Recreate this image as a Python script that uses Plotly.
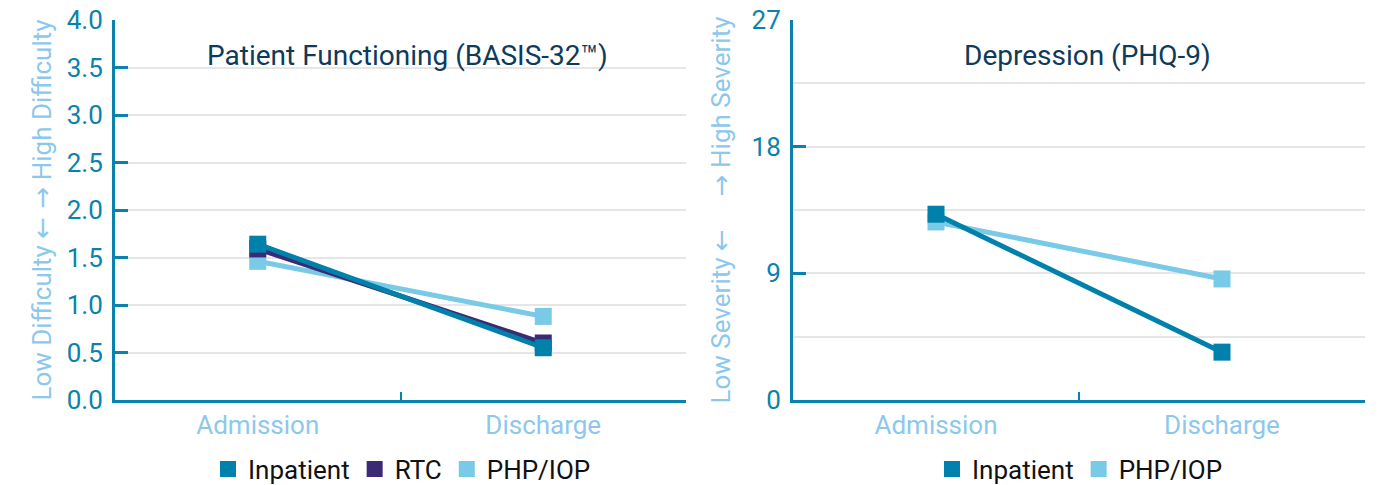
import plotly.graph_objects as go

# page renders the figure with an 8px body offset; lay out in reference pixels
OFF = 8
W, H = 1378 - OFF, 485 - OFF

def px(x):
    return (x - OFF) / W

def py(y):
    return 1 - (y - OFF) / H

timepoints = ["Admission", "Discharge"]

# Patient Functioning (BASIS-32)
basis_inpatient = [1.64, 0.55]
basis_rtc = [1.59, 0.60]
basis_php = [1.46, 0.88]

# Depression (PHQ-9)
phq_inpatient = [13.2, 3.4]
phq_php = [12.65, 8.6]

series_names = ["Inpatient", "RTC", "PHP/IOP"]
colors = {"Inpatient": "#0081AB", "RTC": "#3A2B74", "PHP/IOP": "#79CAE6"}

AXIS_COLOR = "#0A82AC"
LIGHT = "#8DC8EC"
GRID = "#E6E6E6"
FONT = "Roboto"
ARW = '<span style="font-family:DejaVu Sans">{}</span>'

fig = go.Figure()

def add_series(name, y, xa, ya):
    fig.add_trace(go.Scatter(
        x=timepoints, y=y, mode="lines+markers", name=name,
        line=dict(color=colors[name], width=5),
        marker=dict(symbol="square", size=17, color=colors[name]),
        xaxis=xa, yaxis=ya, showlegend=False, cliponaxis=False,
    ))

# draw order: light first, darkest on top
add_series("PHP/IOP", basis_php, "x", "y")
add_series("RTC", basis_rtc, "x", "y")
add_series("Inpatient", basis_inpatient, "x", "y")
add_series("PHP/IOP", phq_php, "x2", "y2")
add_series("Inpatient", phq_inpatient, "x2", "y2")

# legend entries (square swatches only)
for name in series_names:
    fig.add_trace(go.Scatter(x=[None], y=[None], mode="markers", name=name,
                             marker=dict(symbol="square", size=17, color=colors[name]),
                             xaxis="x", yaxis="y", legend="legend"))
for name in ["Inpatient", "PHP/IOP"]:
    fig.add_trace(go.Scatter(x=[None], y=[None], mode="markers", name=name,
                             marker=dict(symbol="square", size=17, color=colors[name]),
                             xaxis="x2", yaxis="y2", legend="legend2"))

ydom = [py(400), py(20)]

xaxis_common = dict(
    type="category", range=[-0.5, 1.5], showline=True, linecolor=AXIS_COLOR, linewidth=3,
    ticks="inside", tickson="boundaries", ticklen=8, tickwidth=2, tickcolor=AXIS_COLOR,
    showgrid=False, zeroline=False, tickfont=dict(family=FONT, size=26, color=LIGHT),
    fixedrange=True, automargin=False,
)
yaxis_common = dict(
    showline=True, linecolor=AXIS_COLOR, linewidth=3, ticks="inside", ticklen=13,
    tickwidth=3, tickcolor=AXIS_COLOR, gridcolor=GRID, gridwidth=2, zeroline=False,
    tickfont=dict(family=FONT, size=26, color=AXIS_COLOR), ticklabelstandoff=4,
    ticklabeloverflow="allow",
    domain=ydom, fixedrange=True, automargin=False,
)

fig.update_layout(
    width=W, height=H, margin=dict(l=0, r=0, t=0, b=0, autoexpand=False),
    paper_bgcolor="white", plot_bgcolor="white",
    font=dict(family=FONT),
    xaxis=dict(domain=[px(115), px(686)], anchor="y", **xaxis_common),
    xaxis2=dict(domain=[px(793), px(1365)], anchor="y2", **xaxis_common),
    yaxis=dict(anchor="x", range=[0, 4], dtick=0.5, tickformat=".1f",
               title=dict(text="Low Difficulty " + ARW.format("\u2190 \u2192") + " High Difficulty",
                          font=dict(family=FONT, size=26, color=LIGHT), standoff=8),
               **yaxis_common),
    yaxis2=dict(anchor="x2", range=[0, 27], tickvals=[0, 9, 18, 27],
                minor=dict(tickvals=[4.5, 13.5, 22.5], showgrid=True, gridcolor=GRID,
                           gridwidth=2, ticks=""),
                title=dict(text="Low Severity " + ARW.format("\u2190\u00a0\u00a0\u00a0\u00a0\u2192") + " High Severity",
                           font=dict(family=FONT, size=26, color=LIGHT), standoff=14),
                **yaxis_common),
    legend=dict(orientation="h", x=px(402), xanchor="center", y=py(469), yanchor="middle",
                font=dict(family=FONT, size=26, color="#111111"), itemwidth=30,
                bgcolor="rgba(0,0,0,0)"),
    legend2=dict(orientation="h", x=px(1080), xanchor="center", y=py(469), yanchor="middle",
                 font=dict(family=FONT, size=26, color="#111111"), itemwidth=30,
                 bgcolor="rgba(0,0,0,0)"),
    annotations=[
        dict(text="Patient Functioning (BASIS-32\u2122)", x=px(407), y=py(55),
             xref="paper", yref="paper", showarrow=False, xanchor="center", yanchor="middle",
             font=dict(family=FONT, size=28, color="#0E3A5C")),
        dict(text="Depression (PHQ-9)", x=px(1087), y=py(55),
             xref="paper", yref="paper", showarrow=False, xanchor="center", yanchor="middle",
             font=dict(family=FONT, size=28, color="#0E3A5C")),
    ],
)

fig.write_html("out.html")
